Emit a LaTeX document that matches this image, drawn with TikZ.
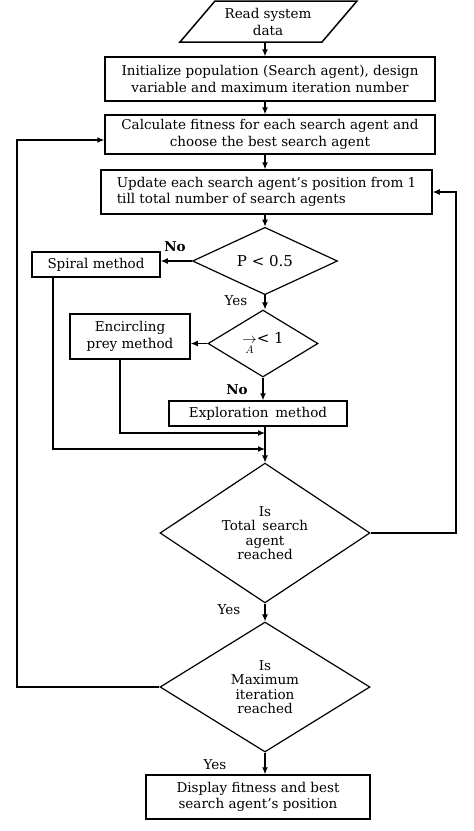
\documentclass[tikz,border=0pt]{standalone}
\usepackage{fontspec}
\setmainfont{DejaVu Serif}
\usetikzlibrary{arrows.meta,shapes.geometric}
\begin{document}
\begin{tikzpicture}[x=1pt,y=-1pt,
  txt/.style={align=center,inner sep=0pt,font=\fontsize{13.5}{16.5}\selectfont},
  box/.style={draw,line width=1.5pt,minimum width=#1,align=center,inner sep=0pt,font=\fontsize{13.5}{16.5}\selectfont},
  dia/.style={draw,diamond,line width=1.2pt,inner sep=0pt,align=center,font=\fontsize{13.5}{14.5}\selectfont},
  arr/.style={line width=1.2pt,-{Latex[length=7pt,width=6pt]}},
  lbl/.style={inner sep=0pt,font=\fontsize{13.5}{16}\selectfont}
]
\useasboundingbox (0,0) rectangle (474,831);
\coordinate (ax) at (265,0);
\coordinate (lx) at (17,0);
\coordinate (rx) at (456,0);

% input parallelogram
\draw[line width=1.5pt] (215,1) -- (357,1) -- (322,42) -- (180,42) -- cycle;
\node[txt] (read) at (268,22) {Read system\\data};
\coordinate (readb) at (265,42);

\node[box=330,minimum height=44] (init) at (270,79) {Initialize population (Search agent), design\\variable and maximum iteration number};
\node[box=330,minimum height=39] (calc) at (270,134.5) {Calculate fitness for each search agent and\\choose the best search agent};
\node[box=331,minimum height=44,align=left] (upd) at (266.5,192) {Update each search agent’s position from 1\\till total number of search agents};
\node[dia,minimum width=145,minimum height=48,font=\fontsize{15}{18}\selectfont] (d1) at (265,261) {P < 0.5};
\node[box=128,minimum height=25] (spiral) at (96,264.5) {Spiral method};
\node[dia,minimum width=110,minimum height=67,font=\fontsize{15}{18}\selectfont] (d2) at (263,343.5) {$\mathop{\rightarrow}\limits_{\scriptstyle A}$< 1};
\node[box=120,minimum height=45] (encirc) at (130,336.5) {Encircling\\prey method};
\node[box=178,minimum height=25] (explor) at (258,413.5) {Exploration\enspace method};
\node[dia,minimum width=210,minimum height=130] (d3) at (265,533) {Is\\Total\enspace search\\agent\\reached};
\node[dia,minimum width=210,minimum height=130] (d4) at (265,687) {Is\\Maximum\\iteration\\reached};
\node[box=224,minimum height=44] (disp) at (258,797) {Display fitness and best\\search agent’s position};

\coordinate (j1) at (265,433);
\coordinate (j2) at (265,449);

% connectors
\draw[arr] (readb) -- (init.north -| ax);
\draw[arr] (init.south -| ax) -- (calc.north -| ax);
\draw[arr] (calc.south -| ax) -- (upd.north -| ax);
\draw[arr] (upd.south -| ax) -- (d1.north);
\draw[arr] (d1.west) -- (d1.west -| spiral.east);
\draw[arr] (d1.south) -- (d1.south |- d2.north);
\draw[arr] (d2.west) -- (d2.west -| encirc.east);
\draw[arr] (d2.south) -- (d2.south |- explor.north);
\draw[arr] (explor.south -| ax) -- (d3.north);
\draw[arr] ([xshift=-10pt]encirc.south) |- (j1);
\draw[arr] ([xshift=-43pt]spiral.south) |- (j2);
\draw[arr] (d3.south) -- (d4.north);
\draw[arr] (d4.south) -- (disp.north -| ax);
\draw[arr] (d4.west) -- (d4.west -| lx) |- ([yshift=-5.5pt]calc.west);
\draw[arr] (d3.east) -- (d3.east -| rx) |- (upd.east);

% labels
\node[lbl,font=\fontsize{13.5}{16}\bfseries] (no1) at (175,247) {No};
\node[lbl] (yes1) at (236,301) {Yes};
\node[lbl,font=\fontsize{13.5}{16}\bfseries] (no2) at (237,390) {No};
\node[lbl] (yes2) at (229,610) {Yes};
\node[lbl] (yes3) at (215,765) {Yes};
\end{tikzpicture}
\end{document}
